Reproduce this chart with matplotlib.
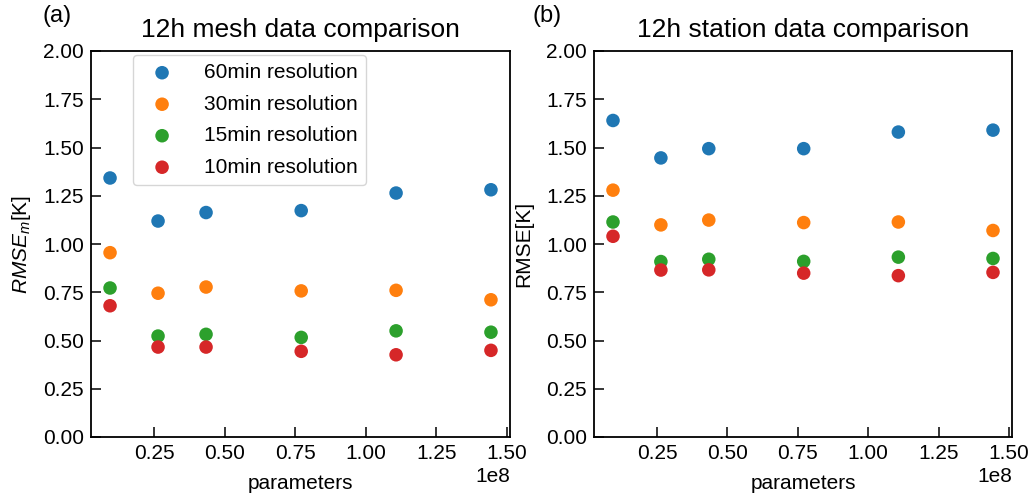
import matplotlib
matplotlib.use("Agg")
import matplotlib.pyplot as plt

plt.rcParams['font.family'] = ['Liberation Sans', 'DejaVu Sans']
plt.rcParams['mathtext.fontset'] = 'custom'
plt.rcParams['mathtext.it'] = 'Liberation Sans:italic'
plt.rcParams['mathtext.rm'] = 'Liberation Sans'

params = [0.094e8, 0.264e8, 0.434e8, 0.771e8, 1.107e8, 1.443e8]
labels = ["60min resolution", "30min resolution", "15min resolution", "10min resolution"]
colors = ["#1f77b4", "#ff7f0e", "#2ca02c", "#d62728"]

mesh_60 = [1.342, 1.119, 1.163, 1.173, 1.264, 1.281]
mesh_30 = [0.955, 0.745, 0.777, 0.757, 0.760, 0.711]
mesh_15 = [0.772, 0.523, 0.532, 0.516, 0.550, 0.543]
mesh_10 = [0.680, 0.466, 0.466, 0.444, 0.426, 0.449]

st_60 = [1.640, 1.446, 1.494, 1.494, 1.580, 1.590]
st_30 = [1.279, 1.099, 1.124, 1.111, 1.114, 1.070]
st_15 = [1.114, 0.909, 0.921, 0.910, 0.932, 0.925]
st_10 = [1.040, 0.865, 0.866, 0.849, 0.836, 0.853]

fig = plt.figure(figsize=(10.34, 4.96), dpi=100)
ax1 = fig.add_axes([91/1034, 1-437/496, 419/1034, 386/496])
ax2 = fig.add_axes([594/1034, 1-437/496, 418/1034, 386/496])

for ax, series, title, ylabel, lp in [
    (ax1, [mesh_60, mesh_30, mesh_15, mesh_10], "12h mesh data comparison", "$RMSE_m$[K]", 7),
    (ax2, [st_60, st_30, st_15, st_10], "12h station data comparison", "RMSE[K]", 9),
]:
    for vals, lab, c in zip(series, labels, colors):
        ax.scatter(params, vals, s=95, color=c, label=lab, edgecolors="none")
    ax.set_ylim(0, 2.0)
    ax.set_yticks([0, 0.25, 0.5, 0.75, 1.0, 1.25, 1.5, 1.75, 2.0])
    ax.set_xticks([0.25e8, 0.5e8, 0.75e8, 1.0e8, 1.25e8, 1.5e8])
    ax.tick_params(direction="in", length=7, width=1.1, labelsize=15, pad=5)
    ax.xaxis.get_offset_text().set_fontsize(15)
    for sp in ax.spines.values():
        sp.set_linewidth(1.3)
    ax.set_title(title, fontsize=19, pad=10)
    ax.set_xlabel("parameters", fontsize=15, labelpad=8)
    ax.set_ylabel(ylabel, fontsize=15, labelpad=lp)

ax1.legend(loc="upper left", bbox_to_anchor=(0.1, 0.99), borderaxespad=0, fontsize=15,
           handletextpad=1.0, labelspacing=0.6, borderpad=0.4)

fig.text(42/1034, 1-16/496, "(a)", fontsize=17, va="center")
fig.text(533/1034, 1-16/496, "(b)", fontsize=17, va="center")

fig.savefig("out.png", dpi=100)
